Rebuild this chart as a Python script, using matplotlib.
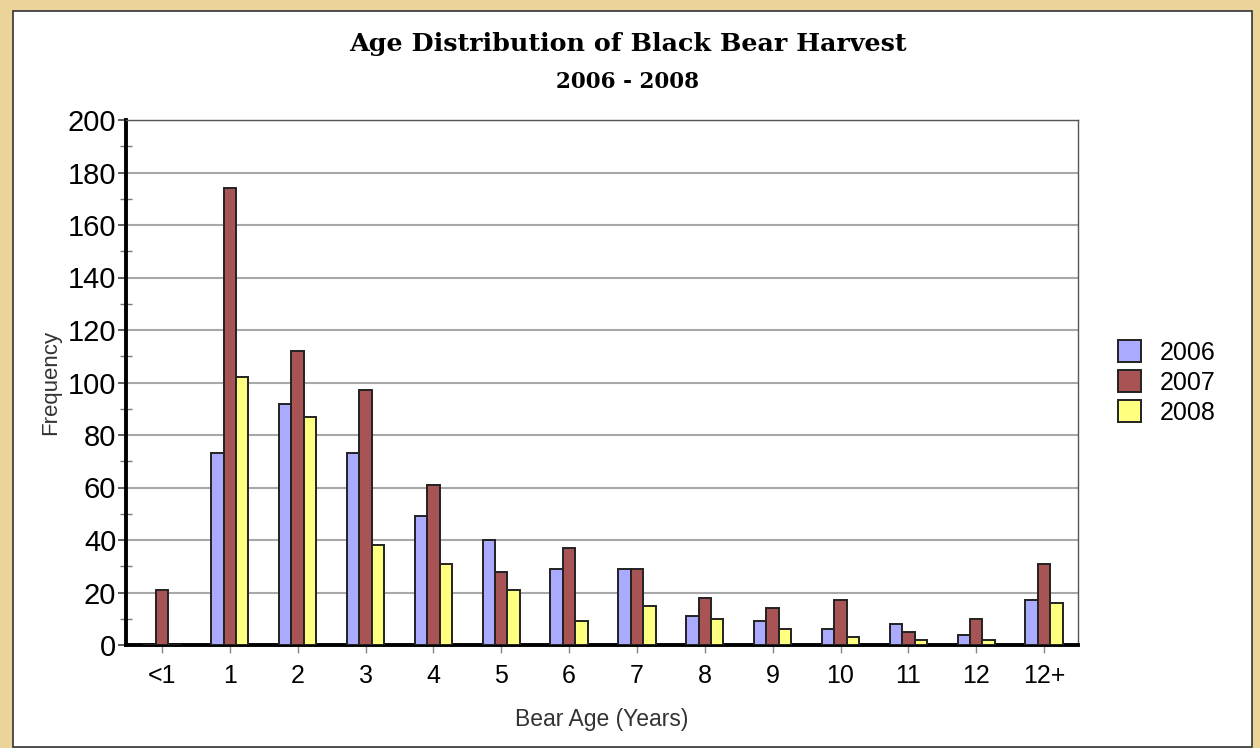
import matplotlib
matplotlib.use("Agg")
import matplotlib.pyplot as plt
import numpy as np
from matplotlib.patches import Rectangle

categories = ["<1", "1", "2", "3", "4", "5", "6", "7", "8", "9", "10", "11", "12", "12+"]
series_names = ["2006", "2007", "2008"]
v2006 = [0, 73, 92, 73, 49, 40, 29, 29, 11, 9, 6, 8, 4, 17]
v2007 = [21, 174, 112, 97, 61, 28, 37, 29, 18, 14, 17, 5, 10, 31]
v2008 = [0, 102, 87, 38, 31, 21, 9, 15, 10, 6, 3, 2, 2, 16]
colors = ["#AAAAFF", "#A85454", "#FFFF80"]

plt.rcParams['font.family'] = ['Liberation Sans', 'DejaVu Sans']

W, H = 1260, 748
fig = plt.figure(figsize=(W / 100, H / 100), dpi=100)
fig.patch.set_facecolor("#EBD49A")
# inner white panel with dark border
panel = Rectangle((13 / W, 1 - 747 / H), (1252 - 13) / W, (747 - 11) / H,
                  transform=fig.transFigure, facecolor="white",
                  edgecolor="#333333", linewidth=1.2, zorder=-10)
fig.patches.append(panel)

ax = fig.add_axes([126 / W, 1 - 645 / H, (1078 - 126) / W, (645 - 120) / H])
ax.set_zorder(5)
x = np.arange(len(categories))
w = 0.183
for i, (vals, name) in enumerate(zip([v2006, v2007, v2008], series_names)):
    ax.bar(x + (i - 1) * w, vals, width=w, color=colors[i], edgecolor="#222222",
           linewidth=1.4, label=name, zorder=3)

ax.set_xlim(-0.53, 13.5)
ax.set_ylim(0, 200)
ax.set_yticks(np.arange(0, 201, 20))
ax.set_yticks(np.arange(10, 200, 20), minor=True)
ax.yaxis.grid(True, which="major", color="#A8A8A8", linewidth=1.5, zorder=0)
ax.set_axisbelow(True)
ax.set_xticks(x)
ax.set_xticklabels(categories, fontsize=18)
ax.tick_params(axis="y", which="major", labelsize=21, length=6, width=1.2, color="#444444", pad=1)
ax.tick_params(axis="y", which="minor", length=8, width=1.0, color="#777777", direction="inout")
ax.tick_params(axis="x", length=6, width=1.0, color="#888888", pad=8)

for s in ["left", "bottom"]:
    ax.spines[s].set_linewidth(2.8)
    ax.spines[s].set_color("black")
for s in ["top", "right"]:
    ax.spines[s].set_linewidth(1.0)
    ax.spines[s].set_color("#555555")

ax.set_ylabel("Frequency", fontsize=16, color="#333333", labelpad=5)
ax.set_xlabel("Bear Age (Years)", fontsize=16.5, color="#333333", labelpad=14)

fig.text(628 / W, 1 - 44 / H, "Age Distribution of Black Bear Harvest",
         family="DejaVu Serif", fontweight="bold", fontsize=18.3, ha="center", va="center")
fig.text(628 / W, 1 - 82 / H, "2006 - 2008",
         family="DejaVu Serif", fontweight="bold", fontsize=15.5, ha="center", va="center")

leg = ax.legend(loc="center left", bbox_to_anchor=(1.018, 0.5), frameon=False,
                fontsize=18, handlelength=0.95, handleheight=0.95, handletextpad=0.75,
                labelspacing=0.22)

fig.savefig("out.png", dpi=100, facecolor=fig.get_facecolor())
